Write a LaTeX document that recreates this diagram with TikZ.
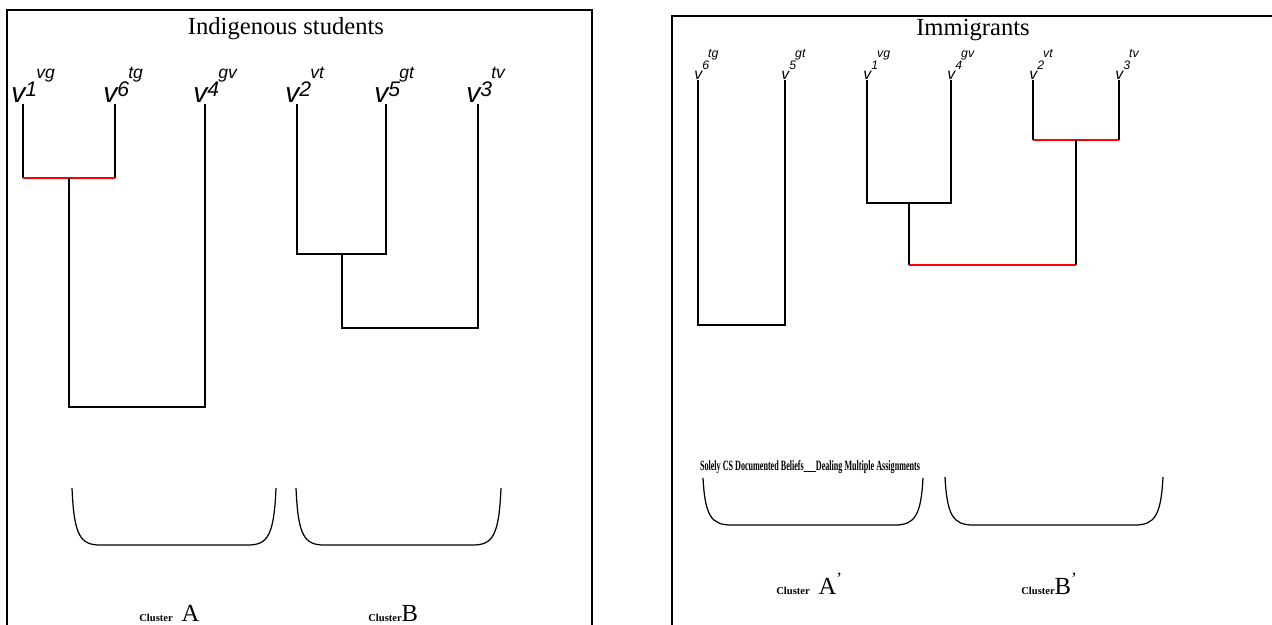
\documentclass[tikz,border=0pt]{standalone}
\usepackage{fontspec}
\setmainfont{Liberation Serif}
\setsansfont{Liberation Sans}
\usepackage{graphicx}
\usetikzlibrary{positioning}

% leaf labels: v, then a raised digit, then a raised pair of letters
\newcommand{\vlab}[2]{v\raisebox{3.5pt}{\fontsize{12}{12}\selectfont #1}%
  \kern-0.5pt\raisebox{14pt}{\fontsize{10}{10}\selectfont #2}}
\newcommand{\wlab}[2]{v\raisebox{6pt}{\fontsize{7}{7}\selectfont #1}%
  \kern-0.5pt\raisebox{13pt}{\fontsize{7}{7}\selectfont #2}}

\begin{document}
\begin{tikzpicture}[x=0.02cm, y=-0.02cm,
  link/.style={line width=0.8pt},
  redlink/.style={line width=1pt, draw=red},
  frame/.style={line width=1pt},
  leaflab/.style={anchor=base west, inner sep=0pt, font=\fontsize{16}{16}\sffamily\itshape},
  smalllab/.style={anchor=base west, inner sep=0pt, font=\fontsize{9}{9}\sffamily\itshape},
  title/.style={anchor=base, font=\fontsize{14}{16}\selectfont},
  clus/.style={anchor=base west, inner sep=0pt},
  brace/.style={line width=0.7pt}]
  \useasboundingbox (0,0) rectangle (1272,625);

  % panels
  \draw[frame] (7,625) -- (7,10) -- (592,10) -- (592,625);
  \draw[frame] (672,625) -- (672,16) -- (1272,16);
  \node[title] (tind) at (286,35) {Indigenous students};
  \node[title] (timm) at (973,36) {Immigrants};

  % indigenous students
  \coordinate (l1) at (23,104);
  \coordinate (l6) at (115,104);
  \coordinate (l4) at (205,104);
  \coordinate (l2) at (297,104);
  \coordinate (l5) at (386,104);
  \coordinate (l3) at (478,104);
  \node[leaflab] (v1) at (11,103) {\vlab{1}{vg}};
  \node[leaflab] (v6) at (103,103) {\vlab{6}{tg}};
  \node[leaflab] (v4) at (193,103) {\vlab{4}{gv}};
  \node[leaflab] (v2) at (285,103) {\vlab{2}{vt}};
  \node[leaflab] (v5) at (374,103) {\vlab{5}{gt}};
  \node[leaflab] (v3) at (466,103) {\vlab{3}{tv}};

  \coordinate (j16) at (69,178);
  \coordinate (j164) at (137,407);
  \coordinate (j25) at (342,254);
  \coordinate (j253) at (410,328);
  \draw[link] (l1) -- (l1 |- j16);
  \draw[link] (l6) -- (l6 |- j16);
  \draw[redlink] (l1 |- j16) -- (l6 |- j16);
  \draw[link] (j16) |- (j164) -| (l4);
  \draw[link] (l2) |- (j25) -| (l5);
  \draw[link] (j25) |- (j253) -| (l3);

  % immigrants
  \coordinate (r6) at (698,80);
  \coordinate (r5) at (785,80);
  \coordinate (r1) at (867,80);
  \coordinate (r4) at (951,80);
  \coordinate (r2) at (1033,80);
  \coordinate (r3) at (1119,80);
  \node[smalllab] (w6) at (694,80) {\wlab{6}{tg}};
  \node[smalllab] (w5) at (781,80) {\wlab{5}{gt}};
  \node[smalllab] (w1) at (863,80) {\wlab{1}{vg}};
  \node[smalllab] (w4) at (947,80) {\wlab{4}{gv}};
  \node[smalllab] (w2) at (1029,80) {\wlab{2}{vt}};
  \node[smalllab] (w3) at (1115,80) {\wlab{3}{tv}};

  \coordinate (j65) at (741,325);
  \coordinate (j14) at (909,203);
  \coordinate (j23) at (1076,140);
  \coordinate (j1423) at (992,265);
  \draw[link] (r6) |- (j65) -| (r5);
  \draw[link] (r1) |- (j14) -| (r4);
  \draw[link] (r2) -- (r2 |- j23);
  \draw[link] (r3) -- (r3 |- j23);
  \draw[redlink] (r2 |- j23) -- (r3 |- j23);
  \draw[link] (j14) -- (j14 |- j1423);
  \draw[link] (j23) -- (j23 |- j1423);
  \draw[redlink] (j14 |- j1423) -- (j23 |- j1423);

  % cluster brackets
  \foreach \xa/\xb/\yt/\yb in {72/276/488/545, 296/501/488/545,
                               703/923/478/525, 945/1163/477/525}
    \draw[brace] (\xa,\yt) .. controls (\xa+2,\yb-10) and (\xa+8,\yb) .. (\xa+28,\yb)
      -- (\xb-28,\yb) .. controls (\xb-8,\yb) and (\xb-2,\yb-10) .. (\xb,\yt);

  \node[inner sep=0pt] (note) at (810,467)
    {\resizebox{4.4cm}{0.2cm}{\bfseries Solely CS Documented Beliefs\_\_\_Dealing Multiple Assignments}};

  \node[clus] (ca) at (139,621) {{\fontsize{6}{7}\selectfont\bfseries Cluster}\ \ {\fontsize{14}{16}\selectfont A}};
  \node[clus] (cb) at (368,621) {{\fontsize{6}{7}\selectfont\bfseries Cluster}{\fontsize{14}{16}\selectfont B}};
  \node[clus] (ca2) at (776,594) {{\fontsize{6}{7}\selectfont\bfseries Cluster}\ \ {\fontsize{14}{16}\selectfont A\textsuperscript{'}}};
  \node[clus] (cb2) at (1021,594) {{\fontsize{6}{7}\selectfont\bfseries Cluster}{\fontsize{14}{16}\selectfont B\textsuperscript{'}}};
\end{tikzpicture}
\end{document}
